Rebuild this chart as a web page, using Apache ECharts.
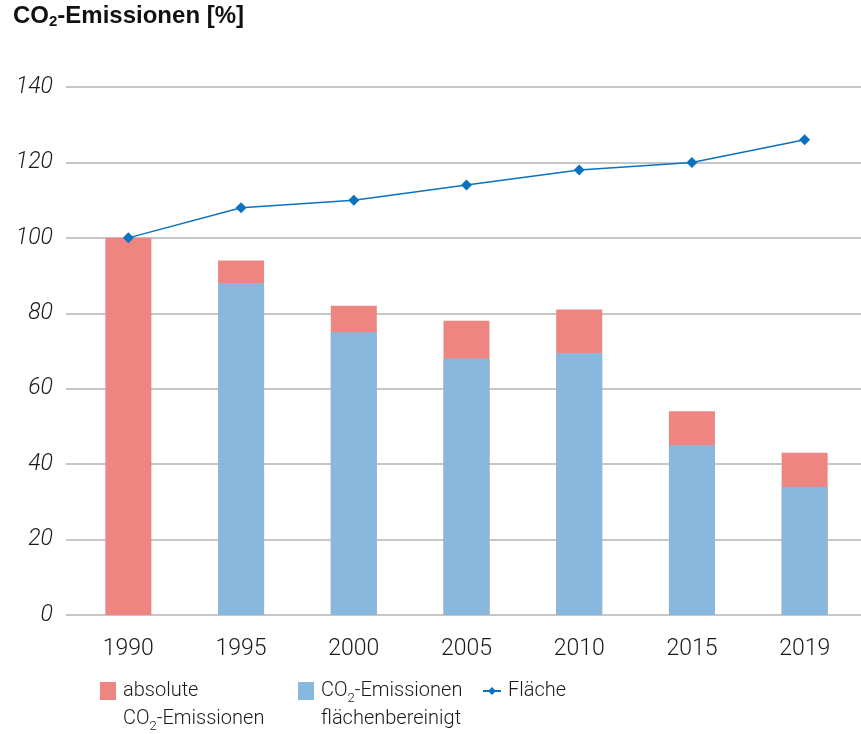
<!DOCTYPE html>
<html>
<head>
<meta charset="utf-8">
<script src="https://cdn.jsdelivr.net/npm/echarts@6/dist/echarts.min.js"></script>
<style>
  html, body { margin: 0; padding: 0; background: #fff; }
  #chart { width: 861px; height: 734px; }
</style>
</head>
<body>
<div id="chart"></div>
<script>
// Jahre und Werte (1990 = 100 %)
const years = ['1990', '1995', '2000', '2005', '2010', '2015', '2019'];
const absoluteEmissions = [100, 94, 82, 78, 81, 54, 43];
const adjustedEmissions = [null, 88, 75, 68, 69.5, 45, 34];
const area = [100, 108, 110, 114, 118, 120, 126];
const yTicks = [0, 20, 40, 60, 80, 100, 120, 140];

const FONT = 'Roboto';
const RED = '#ee8580';
const BLUE = '#89b8df';
const LINE = '#0a72bf';

const subRich = {
  n: { fontSize: 20, fontFamily: FONT, fontWeight: 300, color: '#1a1a1a', lineHeight: 28 },
  s: { fontSize: 13, fontFamily: FONT, fontWeight: 300, color: '#1a1a1a', verticalAlign: 'bottom', padding: [9, 0, 0, 0], lineHeight: 28 }
};

// square swatch in the upper part of a two-line tall box, so it sits beside the first text line
const SWATCH = 'path://M0,0L17,0L17,18L0,18Z M0,46L0.01,46';

function legendAt(left, name, icon, w, h) {
  return {
    left: left, top: 681, orient: 'vertical', padding: 0,
    itemWidth: w, itemHeight: h, itemGap: 0,
    symbolKeepAspect: false,
    data: icon ? [{ name: name, icon: icon }] : [name],
    formatter: function (n) {
      if (n === 'absolute') return '{n|absolute}\n{n|CO}{s|2}{n|-Emissionen}';
      if (n === 'bereinigt') return '{n|CO}{s|2}{n|-Emissionen}\n{n|flächenbereinigt}';
      return '{n|Fläche}';
    },
    textStyle: { rich: subRich, padding: [0, 0, 0, 2] },
    selectedMode: false
  };
}

const chart = echarts.init(document.getElementById('chart'));
chart.setOption({
  animation: false,
  title: {
    text: '{b|CO}{sb|2}{b|-Emissionen [%]}',
    left: 13, top: 4, padding: 0,
    textStyle: {
      rich: {
        b: { fontSize: 24, fontWeight: 'bold', fontFamily: 'Liberation Sans', color: '#111' },
        sb: { fontSize: 15, fontWeight: 'bold', fontFamily: 'Liberation Sans', color: '#111', padding: [10, 0, 0, 0] }
      }
    }
  },
  legend: [
    legendAt(100, 'absolute', SWATCH, 16, 46),
    legendAt(298, 'bereinigt', SWATCH, 16, 46),
    legendAt(482, 'Fläche', null, 18, 10)
  ],
  grid: [
    { left: 66, right: 0, top: 87, bottom: 119 },
    { left: 72, right: 0, top: 87, bottom: 119 }
  ],
  xAxis: [
    { type: 'value', gridIndex: 0, show: false, min: 0, max: 1 },
    {
      type: 'category', gridIndex: 1, data: years,
      axisLine: { show: false }, axisTick: { show: false },
      axisLabel: { fontSize: 23, fontFamily: FONT, fontWeight: 300, color: '#1a1a1a', margin: 23 }
    }
  ],
  yAxis: [
    {
      type: 'value', gridIndex: 0, min: 0, max: 140, interval: 20,
      axisLine: { show: false }, axisTick: { show: false },
      splitLine: { lineStyle: { color: '#b3b3b3', width: 1.5 } },
      axisLabel: {
        fontSize: 23, fontFamily: FONT, fontWeight: 300, fontStyle: 'italic', color: '#1a1a1a', margin: 13,
        formatter: function (v) { return yTicks.indexOf(v) >= 0 ? String(v) : ''; }
      }
    },
    { type: 'value', gridIndex: 1, min: 0, max: 140, interval: 20, show: false, splitLine: { show: false } }
  ],
  series: [
    {
      name: 'absolute', type: 'bar', xAxisIndex: 1, yAxisIndex: 1,
      data: absoluteEmissions, barWidth: 46, barGap: '-100%',
      itemStyle: { color: RED }
    },
    {
      name: 'bereinigt', type: 'bar', xAxisIndex: 1, yAxisIndex: 1,
      data: adjustedEmissions, barWidth: 46, barGap: '-100%',
      itemStyle: { color: BLUE }
    },
    {
      name: 'Fläche', type: 'line', xAxisIndex: 1, yAxisIndex: 1,
      data: area, symbol: 'diamond', symbolSize: 11, z: 5,
      lineStyle: { color: LINE, width: 1.5 },
      itemStyle: { color: LINE, borderWidth: 0 }
    }
  ]
});
</script>
</body>
</html>
